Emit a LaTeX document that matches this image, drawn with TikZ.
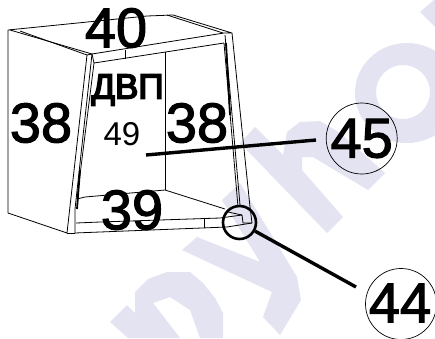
\documentclass[tikz,border=0pt]{standalone}
\usepackage{fontspec}
\setmainfont{Liberation Sans}
\newfontfamily\heavy[FakeBold=2]{Liberation Sans}
\newfontfamily\medium[FakeBold=4.5]{Liberation Sans}
\definecolor{wm}{RGB}{227,227,242}
\tikzset{
 x=1pt,y=-1pt,
 thin line/.style={draw=black,line width=0.8pt,line join=round},
 heavy line/.style={draw=black,line width=1.8pt},
 wmark/.style={fill=wm,draw=none},
 callout/.style={draw=black,line width=3.4pt},
 bubble/.style={draw=black,line width=0.7pt,circle,minimum size=71pt,inner sep=0pt},
 big/.style={font=\heavy\fontsize{56}{56}\selectfont,inner sep=0pt},
 mid/.style={font=\medium\fontsize{35}{35}\selectfont,inner sep=0pt},
 small/.style={font=\fontsize{33}{33}\selectfont,inner sep=0pt}
}
\begin{document}
\begin{tikzpicture}
\useasboundingbox (0,0) rectangle (435,338);
\fill[white] (0,0) rectangle (435,338);
\begin{scope}
\clip (0,0) rectangle (435,338);
% watermark letters
\fill[wmark] (110,322) -- (127,305) -- (135,313) -- (135,292) -- (148,279) -- (167,272) -- (190,272) -- (203,283) -- (215,298) -- (223,313) -- (223,338) -- (200,338) -- (190,310) -- (170,297) -- (153,303) -- (180,338) -- (128,338) -- cycle;
\fill[wmark] (182,250) -- (197,237) -- (260,262) -- (222,200) -- (240,183) -- (297,277) -- (301,300) -- (280,335) -- (263,317) -- (272,292) -- cycle;
\fill[wmark] (255,127) -- (240,143) -- (327,233) -- (343,217) -- (302,170) -- (302,157) -- (313,157) -- (368,190) -- (385,173) -- (340,133) -- (320,121) -- (300,122) -- (287,132) -- (283,155) -- cycle;
\fill[wmark,even odd rule] (407,93) ellipse [x radius=52,y radius=50] (403,92) circle [radius=27];
\fill[wmark] (420,12) -- (435,-1) -- (435,27) -- cycle;
\end{scope}
% cabinet
\coordinate (a) at (8,30);
\coordinate (b) at (147,16);
\coordinate (c) at (173,15);
\coordinate (d) at (232,33);
\coordinate (e) at (92,54);
\coordinate (f) at (87,55);
\coordinate (g) at (8,213);
\coordinate (h) at (67,233);
\coordinate (i) at (75,233);
\coordinate (j) at (250,207);
\coordinate (k) at (252,223);
\draw[thin line] (a) -- (b) -- (c) -- (d) -- (224,33) -- (e) -- (f) -- (20,31);
\draw[thin line] (a) -- (g) -- (h) -- (f);
\draw[thin line] (10,30) -- (e);
\draw[thin line] (i) -- (h);
\draw[thin line] (i) -- (75,209) -- (e);
\draw[thin line] (167,15) -- (223,33);
\draw[thin line] (e) -- (94,63) -- (224,43);
\draw[thin line] (125,50) -- (125,59);
\draw[thin line] (165,52) -- (165,190);
\draw[thin line] (77,199) -- (85,197) -- (165,190) -- (225,209);
\draw[thin line] (228,212) -- (242,215) -- (243,223) -- (k);
\draw[thin line] (94,63) -- (77,199);
\draw[thin line] (224,43) -- (238,207);
\draw[thin line] (225,35) -- (240,205);
\draw[thin line] (d) -- (j) -- (k);
\draw[thin line] (i) -- (100,232) -- (227,227) -- (k);
\draw[thin line] (76,223) -- (100,222) -- (220,218) -- (242,215);
\draw[thin line] (204,218) -- (204,228);
\draw[heavy line] (77,209) -- (80,170);
\draw[heavy line] (226,43) -- (230,115);
% callouts
\node[bubble] (n45) at (361.7,138.5) {};
\node[bubble] (n44) at (401,304) {};
\node[circle,draw=black,line width=2.6pt,minimum size=33pt,inner sep=0pt] (ring) at (239.5,222.5) {};
\coordinate (p45) at (146,155);
\coordinate (q45) at (316,140);
\coordinate (q44) at (356,287);
\draw[callout] (p45) -- (q45);
\draw[callout] (ring) -- (q44);
% labels
\node[big] (t40) at (116,28) {40};
\node[big] (t38a) at (41,123) {38};
\node[big] (t38b) at (197,123) {38};
\node[big] (t39) at (132,210) {39};
\node[mid] (tdvp) at (127.5,90) {ДВП};
\node[small] (t49) at (122,134) {49};
\node[big] at (n45) {45};
\node[big] at (400,303) {44};
\end{tikzpicture}
\end{document}
